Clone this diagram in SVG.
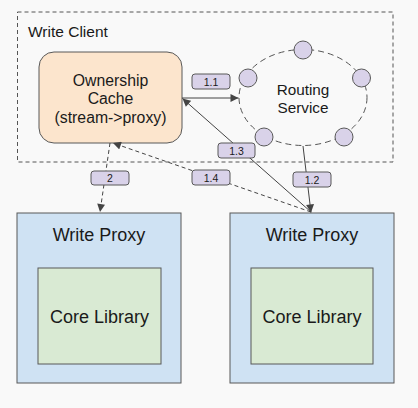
<svg xmlns="http://www.w3.org/2000/svg" width="418" height="408" viewBox="0 0 418 408">
<style>
text{font-family:"Liberation Sans",Arial,sans-serif;fill:#1a1a1a}
.c{text-anchor:middle}
.lbl rect{fill:#d9d2e9;stroke:#595959;stroke-width:1}
.lbl text{font-size:10.5px;text-anchor:middle}
.node{stroke:#595959;stroke-width:1}
.conn line{stroke:#444;stroke-width:1;fill:none}
.dash{stroke-dasharray:4,3}
.dot{fill:#d9d2e9;stroke:#595959;stroke-width:1}
</style>
<defs>
<marker id="ah" viewBox="0 0 10 10" refX="10" refY="5" markerWidth="9" markerHeight="8" markerUnits="userSpaceOnUse" orient="auto">
<path d="M0,0 L10,5 L0,10 z" fill="#444"/>
</marker>
</defs>
<rect width="418" height="408" fill="#f9f9f9"/>
<g id="write-client">
<rect x="17.5" y="12" width="375.5" height="150" fill="none" stroke="#555" stroke-width="1" stroke-dasharray="4,3"/>
<text x="28" y="37" font-size="15.5">Write Client</text>
</g>
<g id="ownership-cache">
<rect class="node" x="39" y="52" width="143" height="91" rx="15" fill="#fce5cd"/>
<text class="c" x="110.5" y="86" font-size="15.8">Ownership</text>
<text class="c" x="110.5" y="104" font-size="15.8">Cache</text>
<text class="c" x="110.5" y="123" font-size="15.8">(stream-&gt;proxy)</text>
</g>
<g id="routing-service">
<ellipse cx="303" cy="97.5" rx="64" ry="48" fill="none" stroke="#555" stroke-width="1" stroke-dasharray="6,4"/>
<circle class="dot" cx="303" cy="50" r="9"/>
<circle class="dot" cx="248" cy="78" r="9"/>
<circle class="dot" cx="361.5" cy="78" r="9"/>
<circle class="dot" cx="264" cy="137" r="9"/>
<circle class="dot" cx="344" cy="137" r="9"/>
<text class="c" x="303" y="95" font-size="15.3">Routing</text>
<text class="c" x="303" y="113" font-size="15.3">Service</text>
</g>
<g id="write-proxy-1">
<rect class="node" x="17" y="213" width="164" height="170" fill="#cfe2f3"/>
<text class="c" x="99" y="241" font-size="18">Write Proxy</text>
<g id="core-library-1">
<rect class="node" x="38" y="268" width="123" height="96" fill="#d9ead3"/>
<text class="c" x="99.5" y="323" font-size="18">Core Library</text>
</g>
</g>
<g id="write-proxy-2">
<rect class="node" x="230" y="213" width="164" height="170" fill="#cfe2f3"/>
<text class="c" x="312" y="241" font-size="18">Write Proxy</text>
<g id="core-library-2">
<rect class="node" x="251" y="268" width="122" height="96" fill="#d9ead3"/>
<text class="c" x="312" y="323" font-size="18">Core Library</text>
</g>
</g>
<g id="connectors" class="conn">
<line x1="182" y1="98" x2="238.5" y2="98" marker-end="url(#ah)"/>
<line x1="303" y1="146" x2="311" y2="212.5" marker-end="url(#ah)"/>
<line x1="311" y1="212" x2="182.5" y2="98.5" marker-end="url(#ah)"/>
<line class="dash" x1="311" y1="212" x2="113" y2="143" marker-end="url(#ah)"/>
<line class="dash" x1="110" y1="143" x2="100" y2="212" marker-end="url(#ah)"/>
</g>
<g id="labels">
<g class="lbl"><rect x="192" y="74" width="38" height="15" rx="3"/><text x="211" y="85.5">1.1</text></g>
<g class="lbl"><rect x="293" y="172" width="38" height="15" rx="3"/><text x="312" y="183.5">1.2</text></g>
<g class="lbl"><rect x="218" y="143" width="37" height="15" rx="3"/><text x="236.5" y="154.5">1.3</text></g>
<g class="lbl"><rect x="192" y="170" width="38" height="15" rx="3"/><text x="211" y="181.5">1.4</text></g>
<g class="lbl"><rect x="91" y="171" width="38" height="14" rx="3"/><text x="110" y="182">2</text></g>
</g>
</svg>
